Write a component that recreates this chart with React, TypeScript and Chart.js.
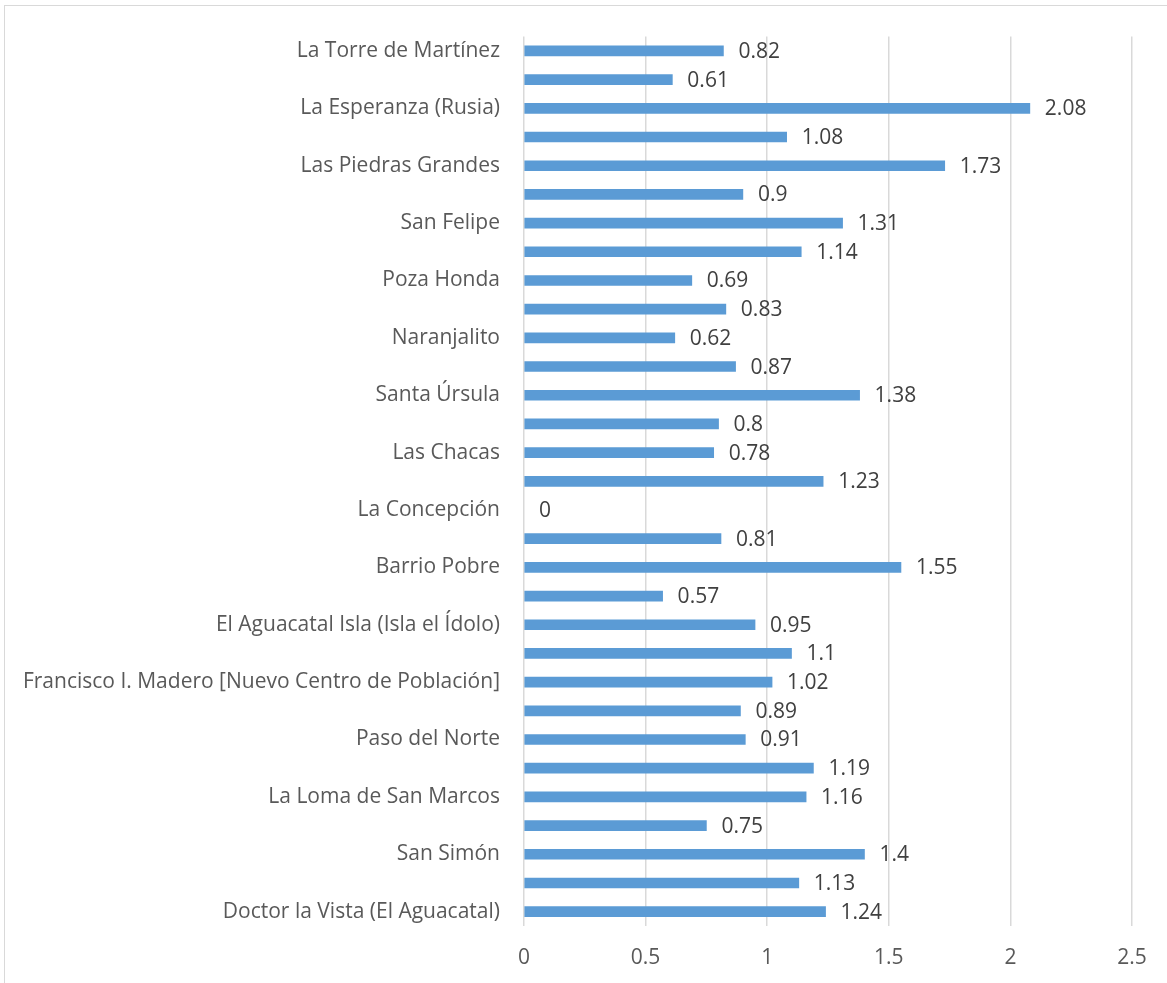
import React, { useEffect, useRef } from "react";
import { Chart, registerables } from "chart.js";

Chart.register(...registerables);

// Categories from top to bottom (labels Excel skipped are unknown and left blank)
const categories: string[] = [
  "La Torre de Martínez", "",
  "La Esperanza (Rusia)", "",
  "Las Piedras Grandes", "",
  "San Felipe", "",
  "Poza Honda", "",
  "Naranjalito", "",
  "Santa Úrsula", "",
  "Las Chacas", "",
  "La Concepción", "",
  "Barrio Pobre", "",
  "El Aguacatal Isla (Isla el Ídolo)", "",
  "Francisco I. Madero [Nuevo Centro de Población]", "",
  "Paso del Norte", "",
  "La Loma de San Marcos", "",
  "San Simón", "",
  "Doctor la Vista (El Aguacatal)",
];

const values: number[] = [
  0.82, 0.61, 2.08, 1.08, 1.73, 0.9, 1.31, 1.14, 0.69, 0.83, 0.62,
  0.87, 1.38, 0.8, 0.78, 1.23, 0, 0.81, 1.55, 0.57, 0.95, 1.1, 1.02,
  0.89, 0.91, 1.19, 1.16, 0.75, 1.4, 1.13, 1.24,
];

const xTicks: number[] = [0, 0.5, 1, 1.5, 2, 2.5];

const FONT = "'Open Sans'";
const FONT_SIZE = 21;
const BAR_COLOR = "#5B9BD5";
const GRID_COLOR = "#D9D9D9";

const dataLabelPlugin = {
  id: "dataLabels",
  afterDatasetsDraw(chart: any) {
    const ctx = chart.ctx;
    const meta = chart.getDatasetMeta(0);
    ctx.save();
    ctx.font = `${FONT_SIZE}px ${FONT}`;
    ctx.fillStyle = "#404040";
    ctx.textAlign = "left";
    ctx.textBaseline = "middle";
    meta.data.forEach((bar: any, i: number) => {
      const v = chart.data.datasets[0].data[i];
      ctx.fillText(String(v), bar.x + 15, bar.y + 1);
    });
    ctx.restore();
  },
};

export default function App() {
  const canvasRef = useRef<HTMLCanvasElement | null>(null);

  useEffect(() => {
    if (!canvasRef.current) return;
    const chart = new Chart(canvasRef.current, {
      type: "bar",
      data: {
        labels: categories,
        datasets: [
          {
            data: values,
            backgroundColor: (c: any) => (c.raw === 0 ? "rgba(0,0,0,0)" : BAR_COLOR),
            barThickness: 10,
          },
        ],
      },
      options: {
        indexAxis: "y",
        animation: false,
        responsive: false,
        maintainAspectRatio: false,
        layout: { padding: { left: 0, right: 35, top: 34, bottom: 0 } },
        plugins: {
          legend: { display: false },
          tooltip: { enabled: false },
        },
        scales: {
          x: {
            min: 0,
            max: 2.5,
            afterBuildTicks: (axis: any) => {
              axis.ticks = xTicks.map((v) => ({ value: v }));
            },
            afterFit: (axis: any) => {
              axis.height = 57;
            },
            grid: {
              color: GRID_COLOR,
              lineWidth: 1.5,
              drawTicks: false,
            },
            border: { display: false },
            ticks: {
              padding: 19,
              color: "#595959",
              font: { family: FONT, size: FONT_SIZE },
              maxRotation: 0,
              callback: (v: any) => String(Number(v)),
            },
          },
          y: {
            afterFit: (axis: any) => {
              axis.width = 524;
            },
            grid: { display: false, drawTicks: false },
            border: { display: false },
            ticks: {
              autoSkip: false,
              padding: 24,
              color: "#595959",
              font: { family: FONT, size: FONT_SIZE },
            },
          },
        },
      },
      plugins: [dataLabelPlugin],
    });
    return () => chart.destroy();
  }, []);

  return (
    <div
      style={{
        position: "fixed",
        left: 0,
        top: 0,
        width: 1167,
        height: 983,
        background: "#fff",
        overflow: "hidden",
      }}
    >
      <div
        style={{
          position: "absolute",
          left: 4,
          top: 5,
          width: 1200,
          height: 1000,
          border: `1.5px solid ${GRID_COLOR}`,
          boxSizing: "border-box",
        }}
      />
      <canvas
        ref={canvasRef}
        width={1167}
        height={983}
        style={{ position: "absolute", left: 0, top: 0, width: 1167, height: 983 }}
      />
    </div>
  );
}
